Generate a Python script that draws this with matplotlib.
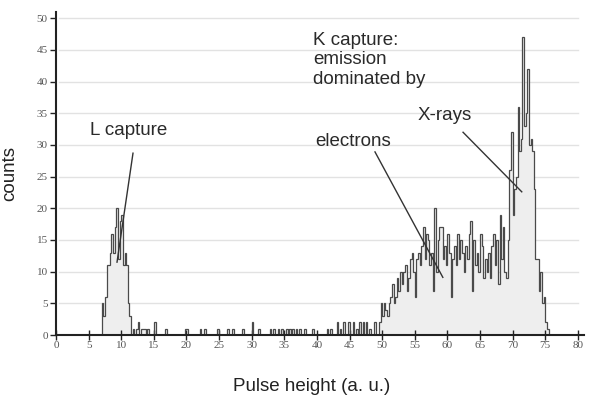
import numpy as np
import matplotlib
matplotlib.use("Agg")
import matplotlib.pyplot as plt

# bin width of the spectrum (a. u.)
bin_w = 0.25

# L capture peak, bins starting at 7.0
l_start = 7.0
l_counts = [5, 3, 6, 11, 11, 13, 16, 13, 17, 20, 12, 18, 19, 11, 13, 11, 5, 3, 0, 1]

# isolated events between the peaks (position, counts)
sparse_pos = [12.3, 12.5, 13.0, 13.3, 13.6, 14.0, 15.0, 16.8, 19.9, 20.2, 22.1, 22.8,
              24.8, 26.4, 27.0, 28.7, 30.2, 31.0, 32.8, 33.3, 34.0, 34.6, 35.4, 35.9,
              36.3, 36.9, 37.4, 38.2, 39.4, 41.5, 42.0, 43.1, 43.5, 44.0, 44.8, 45.5,
              46.1, 46.6, 47.0, 47.7, 48.1, 48.9]
sparse_cnt = [1, 2, 1, 1, 1, 1, 2, 1, 1, 1, 1, 1,
              1, 1, 1, 1, 2, 1, 1, 1, 1, 1, 1, 1,
              1, 1, 1, 1, 1, 1, 1, 2, 1, 2, 2, 2,
              1, 2, 2, 2, 1, 2]

# K capture region, bins starting at 49.5
k_start = 49.5
k_counts = [2, 5,
            3, 5, 4, 3,
            5, 6, 8, 5,
            6, 9, 7, 10,
            8, 10, 11, 7,
            9, 12, 13, 10,
            6, 12, 13, 11,
            14, 17, 12, 16,
            15, 11, 13, 7,
            20, 10, 15, 17,
            17, 12, 14, 11,
            16, 13, 6, 12,
            14, 11, 16, 12,
            15, 13, 10, 14,
            12, 16, 18, 7,
            15, 11, 13, 10,
            16, 14, 9, 12,
            10, 13, 9, 14,
            16, 11, 15, 8,
            19, 12, 17, 10,
            9, 15, 26, 32,
            19, 23, 25, 36,
            29, 31, 47, 33,
            35, 42, 30, 31,
            29, 23, 12, 12,
            7, 10, 5, 6,
            2, 1, 0]

# build the full spectrum on one bin grid
edges = np.arange(0, 80 + bin_w, bin_w)
counts = np.zeros(len(edges) - 1)
i0 = int(round(l_start / bin_w))
counts[i0:i0 + len(l_counts)] = l_counts
for p, c in zip(sparse_pos, sparse_cnt):
    counts[int(p / bin_w)] = c
i0 = int(round(k_start / bin_w))
counts[i0:i0 + len(k_counts)] = k_counts

fig = plt.figure(figsize=(5.91, 3.96), dpi=100)
ax = fig.add_axes([0.0948, 0.154, 0.894, 0.816])

# grid
for yv in range(5, 55, 5):
    ax.plot([0.5, 80], [yv, yv], color="#e2e2e2", lw=1.0, zorder=0)

ax.stairs(counts, edges, fill=True, color="#eeeeee", zorder=1)
ax.stairs(counts, edges, color="#4a4a4a", lw=0.9, zorder=2)

ax.set_xlim(0, 81)
ax.set_ylim(0, 51)
ax.spines["top"].set_visible(False)
ax.spines["right"].set_visible(False)
ax.spines["left"].set_linewidth(1.5)
ax.spines["bottom"].set_linewidth(1.5)
ax.spines["left"].set_color("#222222")
ax.spines["bottom"].set_color("#222222")

ax.set_xticks(range(0, 85, 5))
ax.set_yticks(range(0, 55, 5))
ax.tick_params(axis="x", direction="inout", length=7, width=1, color="#222222",
               labelsize=8, labelcolor="#555555", pad=1)
ax.tick_params(axis="y", direction="out", length=4, width=1, color="#222222",
               labelsize=8, labelcolor="#555555", pad=2)
for lab in ax.get_xticklabels() + ax.get_yticklabels():
    lab.set_family("Liberation Serif")

ax.set_ylabel("counts", fontsize=13.5, family="Liberation Sans", color="#222222", labelpad=13)
fig.text(0.528, 0.003, "Pulse height (a. u.)", fontsize=13.5, family="Liberation Sans",
         color="#222222", ha="center", va="bottom")

txt = dict(fontsize=13.5, family="Liberation Sans", color="#2a2a2a")
ax.text(5.2, 32.2, "L capture", va="center", **txt)
ax.text(39.4, 47.9, "K capture:\nemission\ndominated by", va="top", linespacing=1.2, **txt)
ax.text(39.7, 30.6, "electrons", va="center", **txt)
ax.text(55.5, 34.7, "X-rays", va="center", **txt)

line = dict(color="#333333", lw=1.0, zorder=3)
ax.plot([11.8, 9.35], [28.7, 11.5], **line)
ax.plot([48.9, 59.3], [28.9, 9.1], **line)
ax.plot([62.4, 71.4], [32.0, 22.6], **line)

fig.savefig("out.png", dpi=100)
